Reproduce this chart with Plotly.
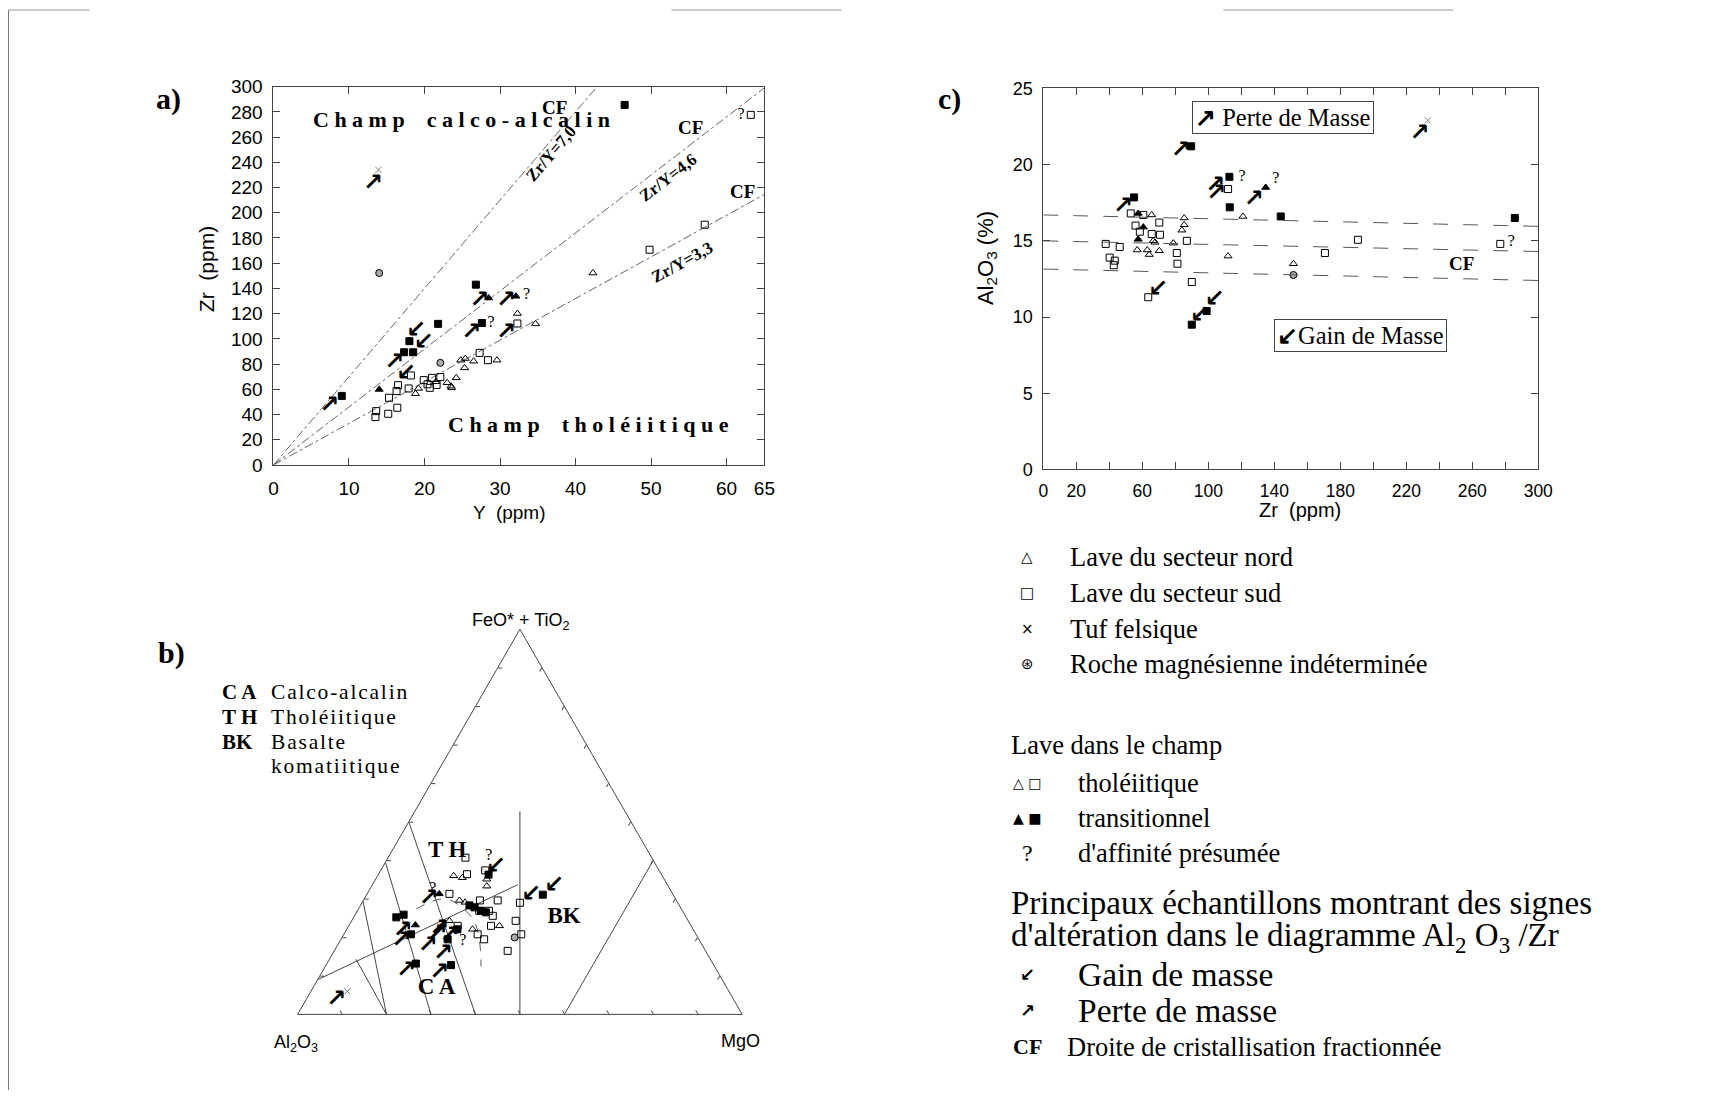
import plotly.graph_objects as go

W, H = 1714, 1101
# the rendered page comes out slightly reduced and offset; these map a wanted
# on-screen pixel back to a figure coordinate
SX, OX = 0.9885, 5.5
SY, OY = 0.982, 9.0


def fx(p):
    """horizontal screen pixel -> paper fraction"""
    return (p - OX) / SX / W


def fy(p):
    """vertical screen pixel (from top) -> paper fraction"""
    return 1 - (p - OY) / SY / H


# ------------------------------------------------------------------
# a) Zr (ppm) vs Y (ppm)
# ------------------------------------------------------------------
a_nord_y = [18.8, 19.2, 21.5, 23.0, 23.6, 24.2, 24.8, 25.4, 25.3, 26.5, 29.6, 32.3, 34.7, 42.3, 23.5]
a_nord_zr = [56.5, 60.7, 66.0, 65.2, 61.2, 69.1, 83.1, 84.4, 77.0, 82.3, 83.1, 120.1, 111.9, 152.2, 62.5]
a_sud_y = [13.6, 13.5, 15.2, 15.3, 16.3, 16.5, 17.9, 19.9, 20.7, 21.0, 22.1, 16.4, 18.2, 27.3, 28.4,
           32.3, 49.8, 57.1, 63.2, 20.4, 21.6]
a_sud_zr = [42.7, 38.0, 40.6, 53.3, 58.6, 63.3, 60.7, 67.3, 61.2, 69.1, 69.7, 45.4, 71.0, 88.9, 83.1,
            112.2, 170.7, 190.5, 277.6, 64.0, 63.5]
a_trsq_y = [9.05, 17.3, 18.5, 18.0, 21.8, 26.8, 27.6, 46.5]
a_trsq_zr = [54.8, 89.4, 89.4, 98.2, 111.9, 143.0, 112.6, 285.5]
a_trtri_y = [14.0, 28.5, 32.1]
a_trtri_zr = [59.9, 132.4, 133.8]
a_tuf_y = [13.9]
a_tuf_zr = [234.0]
a_mag_y = [14.0, 22.1]
a_mag_zr = [152.2, 81.0]
a_perte_y = [7.4, 13.2, 16.0, 27.3, 30.8, 26.2, 30.8]
a_perte_zr = [46.7, 223.0, 81.0, 129.8, 129.8, 104.7, 104.7]
a_gain_y = [18.9, 19.9, 17.6]
a_gain_zr = [106.0, 96.8, 71.8]
a_q_y = [33.5, 28.8, 61.9]
a_q_zr = [134.6, 112.6, 277.6]
zr_y_ratios = [7.0, 4.6, 3.3]
ratio_labels = ["Zr/Y=7,0", "Zr/Y=4,6", "Zr/Y=3,3"]
a_x_ticks = [0, 10, 20, 30, 40, 50, 60, 65]

# ------------------------------------------------------------------
# c) Al2O3 (%) vs Zr (ppm)
# ------------------------------------------------------------------
c_nord_zr = [65.7, 85.4, 85.4, 84.0, 78.8, 56.9, 63.0, 64.2, 70.3, 112.0, 121.0, 151.6, 66.6, 67.7]
c_nord_al = [16.7, 16.5, 16.05, 15.7, 14.85, 14.4, 14.4, 14.1, 14.35, 14.0, 16.6, 13.5, 15.0, 14.9]
c_sud_zr = [53.0, 60.6, 55.9, 70.3, 58.5, 65.7, 70.7, 87.0, 37.8, 46.3, 80.9, 81.3, 40.2, 43.3, 42.7,
            90.0, 63.6, 112.0, 190.7, 170.7, 277.0]
c_sud_al = [16.8, 16.7, 16.0, 16.2, 15.6, 15.45, 15.4, 15.0, 14.8, 14.6, 14.2, 13.5, 13.9, 13.7, 13.4,
            12.3, 11.3, 18.4, 15.07, 14.2, 14.8]
c_trsq_zr = [89.6, 112.8, 113.0, 55.0, 143.9, 285.8, 90.0, 99.0]
c_trsq_al = [21.2, 19.2, 17.2, 17.85, 16.6, 16.5, 9.5, 10.4]
c_trtri_zr = [57.5, 60.6, 57.5, 134.8]
c_trtri_al = [16.8, 15.9, 15.1, 18.5]
c_tuf_zr = [233.0]
c_tuf_al = [22.9]
c_mag_zr = [151.6]
c_mag_al = [12.76]
c_perte_zr = [83.3, 104.3, 104.9, 127.6, 48.4, 228.0]
c_perte_al = [20.9, 18.6, 18.07, 17.7, 17.2, 22.0]
c_gain_zr = [69.7, 95.0, 104.0]
c_gain_al = [11.8, 10.1, 11.1]
c_q_zr = [120.5, 140.9, 283.7]
c_q_al = [19.2, 19.05, 14.9]
cf_zr = [0, 300]
cf_upper = [16.7, 15.95]
cf_middle = [15.0, 14.3]
cf_lower = [13.15, 12.4]
c_x_ticks = [0, 20, 40, 60, 80, 100, 120, 140, 160, 180, 200, 220, 240, 260, 280, 300]
c_x_text = ["0", "20", "", "60", "", "100", "", "140", "", "180", "", "220", "", "260", "", "300"]

# ------------------------------------------------------------------
# b) Jensen cation plot: FeO*+TiO2 (a), Al2O3 (b), MgO (c), in %
# ------------------------------------------------------------------
b_sud_a = [40.7, 37.4, 36.4, 31.3, 29.6, 26.9, 25.6, 29.6, 26.9, 23.0, 23.0, 20.8, 19.5, 29.0, 24.3, 20.8, 16.5]
b_sud_b = [41.9, 39.1, 43.7, 50.2, 44.2, 43.5, 43.3, 40.2, 45.7, 45.0, 52.5, 49.1, 48.3, 35.5, 38.8, 39.3, 44.5]
b_sud_c = [17.4, 23.5, 19.9, 18.5, 26.2, 29.6, 31.1, 30.2, 27.4, 32.0, 24.5, 30.1, 32.2, 35.5, 36.9, 39.9, 39.0]
b_nord_a = [36.0, 35.5, 35.1, 33.3, 29.6, 29.1, 23.0, 24.3, 22.1]
b_nord_b = [46.9, 45.2, 39.9, 40.8, 48.8, 47.8, 43.1, 53.7, 49.6]
b_nord_c = [17.1, 19.3, 25.0, 25.9, 21.6, 23.1, 33.9, 22.0, 28.3]
b_trsq_a = [36.3, 28.3, 27.8, 26.9, 26.5, 31.1, 25.2, 25.9, 20.8, 22.1, 19.5, 13.2, 12.8]
b_trsq_b = [38.9, 47.2, 46.3, 45.3, 44.4, 29.3, 65.2, 63.2, 64.1, 53.0, 56.5, 66.8, 59.1]
b_trsq_c = [24.8, 24.5, 25.9, 27.8, 29.1, 39.6, 9.6, 10.9, 15.1, 24.9, 24.0, 20.0, 28.1]
b_trtri_a = [31.3, 23.2]
b_trtri_b = [52.5, 61.9]
b_trtri_c = [16.2, 14.9]
b_tuf_a, b_tuf_b, b_tuf_c = [6.0], [85.8], [8.2]
b_mag_a, b_mag_b, b_mag_c = [20.0], [41.2], [38.8]
b_perte_a = [30.0, 21.7, 19.1, 22.1, 20.4, 17.8, 15.6, 11.2, 10.8, 3.8, 20.8]
b_perte_b = [55.5, 65.5, 67.1, 57.1, 55.6, 61.8, 59.5, 70.0, 62.7, 89.4, 58.1]
b_perte_c = [14.5, 12.8, 13.8, 20.8, 24.0, 20.4, 24.9, 18.8, 26.5, 6.8, 21.1]
b_gain_a = [38.3, 30.9, 33.3]
b_gain_b = [36.2, 32.0, 25.6]
b_gain_c = [25.5, 37.1, 41.1]
b_q_a = [41.2, 32.6, 19.1]
b_q_b = [36.4, 53.3, 53.3]
b_q_c = [22.4, 14.1, 27.6]
# field boundaries (a, b, c pairs)
jensen_lines = [
    ([50.0, 0.0], [50.0, 60.0], [0.0, 40.0]),
    ([39.5, 0.0], [60.5, 70.0], [0.0, 30.0]),
    ([29.4, 0.0], [70.6, 80.0], [0.0, 20.0]),
    ([14.3, 0.0], [79.7, 80.0], [6.0, 20.0]),
    ([9.0, 33.7], [91.0, 33.6], [0.0, 32.7]),
    ([0.0, 52.7], [50.0, 23.65], [50.0, 23.65]),
    ([0.0, 40.0], [40.0, 0.0], [60.0, 60.0]),
]
th_ca_a = [27.4, 30.0, 24.8, 19.5, 12.5]
th_ca_b = [59.6, 51.6, 48.2, 49.4, 52.5]
th_ca_c = [13.0, 18.4, 27.0, 31.1, 35.0]
field_names = ["T H", "C A", "BK"]
field_a = [42.3, 6.7, 25.3]
field_b = [45.2, 65.4, 27.4]
field_c = [12.5, 27.9, 47.3]

PERTE = "\u2197"
GAIN = "\u2199"
SERIF = "Liberation Serif"
SANS = "Liberation Sans"
ARROW_FONT = dict(family="DejaVu Sans", size=24, color="black", weight="bold")

fig = go.Figure()


def xy_markers(x, y, symbol, xa, ya, size=7, color="black", lw=1):
    fig.add_trace(go.Scatter(
        x=x, y=y, mode="markers", xaxis=xa, yaxis=ya, hoverinfo="skip",
        marker=dict(symbol=symbol, size=size, color=color, line=dict(color="black", width=lw))))


def xy_text(x, y, txt, xa, ya, font):
    fig.add_trace(go.Scatter(
        x=x, y=y, mode="text", text=[txt] * len(x), textposition="middle center",
        xaxis=xa, yaxis=ya, hoverinfo="skip", textfont=font))


def tern_markers(a, b, c, symbol, size=7, color="black"):
    fig.add_trace(go.Scatterternary(
        a=a, b=b, c=c, mode="markers", hoverinfo="skip",
        marker=dict(symbol=symbol, size=size, color=color, line=dict(color="black", width=1))))


def tern_text(a, b, c, txt, font):
    fig.add_trace(go.Scatterternary(
        a=a, b=b, c=c, mode="text", text=txt if isinstance(txt, list) else [txt] * len(a),
        textposition="middle center", hoverinfo="skip", textfont=font))


# --- a) reference lines Zr/Y
for r in zr_y_ratios:
    x_end = min(65.0, 300.0 / r)
    fig.add_trace(go.Scatter(x=[0, x_end], y=[0, r * x_end], mode="lines", xaxis="x", yaxis="y",
                             hoverinfo="skip", line=dict(color="#666", width=1, dash="dashdot")))

for xa, ya, nord, sud, trsq, trtri, tuf, mag, perte, gain, q in [
    ("x", "y", (a_nord_y, a_nord_zr), (a_sud_y, a_sud_zr), (a_trsq_y, a_trsq_zr),
     (a_trtri_y, a_trtri_zr), (a_tuf_y, a_tuf_zr), (a_mag_y, a_mag_zr), (a_perte_y, a_perte_zr),
     (a_gain_y, a_gain_zr), (a_q_y, a_q_zr)),
    ("x2", "y2", (c_nord_zr, c_nord_al), (c_sud_zr, c_sud_al), (c_trsq_zr, c_trsq_al),
     (c_trtri_zr, c_trtri_al), (c_tuf_zr, c_tuf_al), (c_mag_zr, c_mag_al), (c_perte_zr, c_perte_al),
     (c_gain_zr, c_gain_al), (c_q_zr, c_q_al)),
]:
    xy_markers(*nord, "triangle-up-open", xa, ya, size=7)
    xy_markers(*sud, "square-open", xa, ya, size=7)
    xy_markers(*trsq, "square", xa, ya, size=7)
    xy_markers(*trtri, "triangle-up", xa, ya, size=7)
    xy_markers(*tuf, "x-thin-open", xa, ya, size=6, color="#777")
    xy_markers(*mag, "circle", xa, ya, size=7, color="#aaa")
    xy_text(*perte, PERTE, xa, ya, ARROW_FONT)
    xy_text(*gain, GAIN, xa, ya, ARROW_FONT)
    xy_text(*q, "?", xa, ya, dict(family=SERIF, size=16, color="black"))

# --- c) fractional crystallisation lines
for yy in (cf_upper, cf_middle, cf_lower):
    fig.add_trace(go.Scatter(x=cf_zr, y=yy, mode="lines", xaxis="x2", yaxis="y2", hoverinfo="skip",
                             line=dict(color="#555", width=1, dash="longdash")))

# --- b) ternary
for la, lb, lc in jensen_lines:
    fig.add_trace(go.Scatterternary(a=la, b=lb, c=lc, mode="lines", hoverinfo="skip",
                                    line=dict(color="#444", width=1)))
fig.add_trace(go.Scatterternary(a=th_ca_a, b=th_ca_b, c=th_ca_c, mode="lines", hoverinfo="skip",
                                line=dict(color="#555", width=1, dash="dash", shape="spline")))
tern_markers(b_nord_a, b_nord_b, b_nord_c, "triangle-up-open", size=7)
tern_markers(b_sud_a, b_sud_b, b_sud_c, "square-open", size=7)
tern_markers(b_trsq_a, b_trsq_b, b_trsq_c, "square", size=7)
tern_markers(b_trtri_a, b_trtri_b, b_trtri_c, "triangle-up", size=7)
tern_markers(b_tuf_a, b_tuf_b, b_tuf_c, "x-thin-open", size=6, color="#777")
tern_markers(b_mag_a, b_mag_b, b_mag_c, "circle", size=7, color="#aaa")
tern_text(b_perte_a, b_perte_b, b_perte_c, PERTE, ARROW_FONT)
tern_text(b_gain_a, b_gain_b, b_gain_c, GAIN, ARROW_FONT)
tern_text(b_q_a, b_q_b, b_q_c, "?", dict(family=SERIF, size=16, color="black"))
tern_text(field_a, field_b, field_c, field_names, dict(family=SERIF, size=23, color="black", weight="bold"))


def axis_style(size):
    return dict(showgrid=False, zeroline=False, showline=True, linecolor="#444", linewidth=1,
                mirror="ticks", ticks="inside", ticklen=7, tickcolor="#444", ticklabelstandoff=6,
                tickfont=dict(family=SANS, size=size, color="black"))


tern_axis = dict(showgrid=False, showticklabels=False, ticks="inside", ticklen=4, dtick=10,
                 linecolor="#444", linewidth=1, tickcolor="#444", title=dict(text=""))

fig.update_layout(
    width=W, height=H, margin=dict(l=0, r=0, t=0, b=0),
    paper_bgcolor="white", plot_bgcolor="white", showlegend=False,
    xaxis=dict(domain=[fx(274), fx(765)], range=[0, 65], tickvals=a_x_ticks, anchor="y", **axis_style(19)),
    yaxis=dict(domain=[fy(464.5), fy(85.7)], range=[0, 300], dtick=20, anchor="x", **axis_style(19)),
    xaxis2=dict(domain=[fx(1044), fx(1539)], range=[0, 300], tickvals=c_x_ticks, ticktext=c_x_text,
                anchor="y2", **axis_style(17.5)),
    yaxis2=dict(domain=[fy(469), fy(87.5)], range=[0, 25], dtick=5, anchor="x2", **axis_style(18)),
    ternary=dict(
        domain=dict(x=[fx(298), fx(743)], y=[fy(1014.5), fy(629)]),
        sum=100, bgcolor="white",
        aaxis=tern_axis, baxis=tern_axis, caxis=tern_axis,
    ),
)

ann = []


def note(x, y, text, size=18, family=SANS, xref="paper", yref="paper", angle=0, xanchor="center",
         bold=False, **kw):
    ann.append(dict(x=x, y=y, xref=xref, yref=yref, text=f"<b>{text}</b>" if bold else text,
                    showarrow=False, textangle=angle, xanchor=xanchor, yanchor="middle",
                    font=dict(family=family, size=size, color="black"), **kw))


# panel letters
note(fx(169), fy(98), "a)", size=30, family=SERIF, bold=True)
note(fx(172), fy(653), "b)", size=30, family=SERIF, bold=True)
note(fx(950), fy(98), "c)", size=30, family=SERIF, bold=True)

# axis titles
note(fx(510), fy(512), "Y  (ppm)", size=19)
note(fx(207), fy(268), "Zr  (ppm)", size=21, angle=-90)
note(fx(1301), fy(510), "Zr  (ppm)", size=20)
note(fx(987), fy(257), "Al<sub>2</sub>O<sub>3</sub> (%)", size=22, angle=-90)

# ternary apex labels
note(fx(522), fy(621), "FeO* + TiO<sub>2</sub>")
note(fx(297), fy(1044), "Al<sub>2</sub>O<sub>3</sub>")
note(fx(741), fy(1041), "MgO")

# panel a texts
sp = "\u00a0"
note(24.9, 274, sp.join("Champ") + sp * 4 + sp.join("calco-alcalin"), size=22, family=SERIF,
     xref="x", yref="y", bold=True)
note(41.7, 32.1, sp.join("Champ") + sp * 4 + sp.join("tholéiitique"), size=22, family=SERIF,
     xref="x", yref="y", bold=True)
for (lx, ly, ang), lab in zip([(36.8, 246.6, -49.5), (52.3, 227.6, -37.6), (54.1, 160.3, -28.9)], ratio_labels):
    note(lx, ly, lab, size=17, family=SERIF, xref="x", yref="y", angle=ang, bold=True)
for lx, ly in [(37.2, 283.7), (55.2, 267.2), (62.1, 216.5)]:
    note(lx, ly, "CF", size=19, family=SERIF, xref="x", yref="y", bold=True)

# panel c texts
note(253.7, 13.5, "CF", size=19, family=SERIF, xref="x2", yref="y2", bold=True)
ann.append(dict(x=fx(1284), y=fy(116.5), xref="paper", yref="paper", showarrow=False,
                xanchor="center", yanchor="middle",
                text=f"<b>{PERTE}</b> Perte de Masse", font=dict(family=SERIF, size=24.5, color="black"),
                bordercolor="#444", borderwidth=1, borderpad=2, bgcolor="white"))
ann.append(dict(x=fx(1361), y=fy(334.5), xref="paper", yref="paper", showarrow=False,
                xanchor="center", yanchor="middle",
                text=f"<b>{GAIN}</b>Gain de Masse", font=dict(family=SERIF, size=24.5, color="black"),
                bordercolor="#444", borderwidth=1, borderpad=2, bgcolor="white"))

# panel b key
hs = "\u200a"
for yy, ab, desc in [(692, "C A", "Calco-alcalin"), (717, "T H", "Tholéiitique"),
                     (742, "BK", "Basalte"), (766, "", "komatiitique")]:
    if ab:
        note(fx(221), fy(yy), ab, size=21, family=SERIF, xanchor="left", bold=True)
    note(fx(270), fy(yy), hs.join(desc), size=21.5, family=SERIF, xanchor="left")

# legend block
LEG = 26.5
for yy, sym, desc in [(557, "\u25b3", "Lave du secteur nord"), (593, "\u25a1", "Lave du secteur sud"),
                      (629, "\u00d7", "Tuf felsique"), (664, "\u229b", "Roche magnésienne indéterminée")]:
    note(fx(1028), fy(yy), sym, size=15, family="DejaVu Sans")
    note(fx(1069), fy(yy), desc, size=LEG, family=SERIF, xanchor="left")
note(fx(1010), fy(745), "Lave dans le champ", size=LEG, family=SERIF, xanchor="left")
note(fx(1028), fy(783), "\u25b3 \u25a1", size=14, family="DejaVu Sans")
note(fx(1077), fy(783), "tholéiitique", size=LEG, family=SERIF, xanchor="left")
note(fx(1028), fy(818), "\u25b2 \u25a0", size=14, family="DejaVu Sans")
note(fx(1077), fy(818), "transitionnel", size=LEG, family=SERIF, xanchor="left")
note(fx(1028), fy(853), "?", size=24, family=SERIF)
note(fx(1077), fy(853), "d'affinité présumée", size=LEG, family=SERIF, xanchor="left")
note(fx(1010), fy(903), "Principaux échantillons montrant des signes", size=33, family=SERIF, xanchor="left")
note(fx(1010), fy(938), "d'altération dans le diagramme Al<sub>2</sub> O<sub>3</sub> /Zr", size=33,
     family=SERIF, xanchor="left")
note(fx(1028), fy(975), f"<b>{GAIN}</b>", size=18, family="DejaVu Sans")
note(fx(1077), fy(975), "Gain de masse", size=33.5, family=SERIF, xanchor="left")
note(fx(1028), fy(1011), f"<b>{PERTE}</b>", size=18, family="DejaVu Sans")
note(fx(1077), fy(1011), "Perte de masse", size=33.5, family=SERIF, xanchor="left")
note(fx(1028), fy(1047), "CF", size=22, family=SERIF, bold=True)
note(fx(1066), fy(1047), "Droite de cristallisation fractionnée", size=LEG, family=SERIF, xanchor="left")

fig.update_layout(annotations=ann)

# page frame
fig.add_shape(type="line", xref="paper", yref="paper", x0=fx(9), x1=fx(9), y0=0, y1=fy(9),
              line=dict(color="#777", width=1))
for x0, x1 in [(9, 90), (672, 842), (1224, 1454)]:
    fig.add_shape(type="line", xref="paper", yref="paper", x0=fx(x0), x1=fx(x1), y0=fy(9), y1=fy(9),
                  line=dict(color="#999", width=1))

fig.write_html("out.html")
